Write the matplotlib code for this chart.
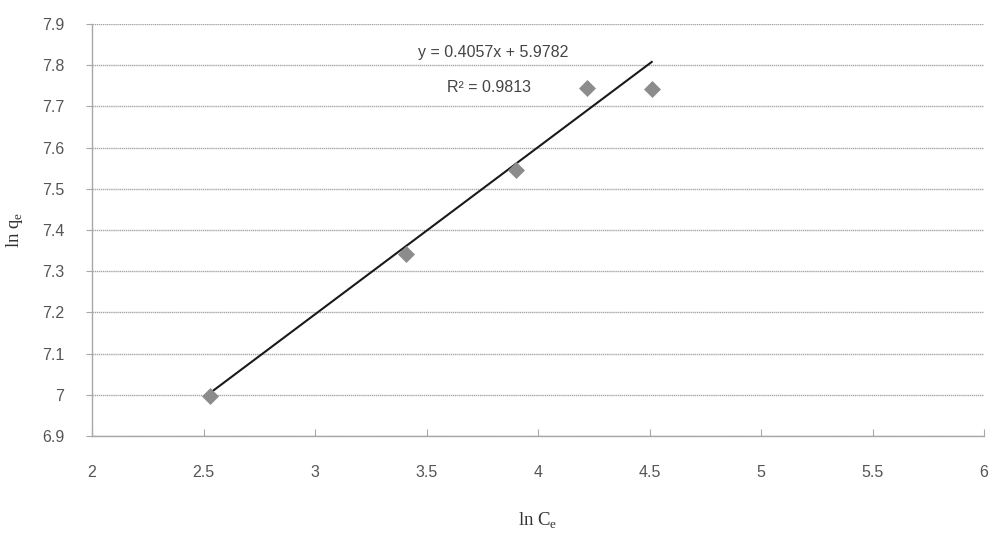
import matplotlib
matplotlib.use("Agg")
import matplotlib.pyplot as plt
import numpy as np

# data
ln_ce = [2.53, 3.41, 3.90, 4.22, 4.51]
ln_qe = [6.997, 7.341, 7.545, 7.745, 7.742]
slope = 0.4057
intercept = 5.9782
r2 = 0.9813

xticks = [2, 2.5, 3, 3.5, 4, 4.5, 5, 5.5, 6]
yticks = [6.9, 7, 7.1, 7.2, 7.3, 7.4, 7.5, 7.6, 7.7, 7.8, 7.9]

plt.rcParams['font.family'] = ['Liberation Sans', 'DejaVu Sans']

fig = plt.figure(figsize=(9.92, 5.33), dpi=100)
ax = fig.add_axes([92/992, (533-436)/533, (984-92)/992, (436-24)/533])

ax.set_xlim(2, 6)
ax.set_ylim(6.9, 7.9)
ax.set_xticks(xticks)
ax.set_xticklabels([f"{t:g}" for t in xticks])
ax.set_yticks(yticks)
ax.set_yticklabels([f"{t:g}" for t in yticks])

ax.grid(axis='y', color='#a8a8a8', linewidth=1.0, linestyle=(0, (1, 0.5)))
ax.set_axisbelow(True)
for s in ['top', 'right']:
    ax.spines[s].set_visible(False)
for s in ['left', 'bottom']:
    ax.spines[s].set_color('#a8a8a8')
    ax.spines[s].set_linewidth(1.0)

ax.tick_params(axis='x', colors='#a8a8a8', labelcolor='#555555', length=5,
               direction='in', pad=21, labelsize=11.5)
ax.tick_params(axis='y', colors='#a8a8a8', labelcolor='#555555', length=4,
               direction='out', pad=16, labelsize=11.5)

# trend line from the fitted equation
xf = np.array([min(ln_ce), max(ln_ce)])
ax.plot(xf, slope * xf + intercept, color='#1a1a1a', linewidth=1.5, zorder=3)
ax.scatter(ln_ce, ln_qe, marker='D', s=75, color='#8c8c8c', zorder=4,
           linewidths=0)

ax.text(3.8, 7.83, f"y = {slope}x + {intercept}", ha='center', va='center',
        fontsize=11.5, color='#444444')
ax.text(3.78, 7.745, f"R² = {r2}", ha='center', va='center',
        fontsize=11.5, color='#444444')

ax.set_ylabel('ln q$_\\mathregular{e}$', family='Liberation Serif', fontsize=13.5,
              color='#333333', labelpad=12)
ax.set_xlabel('ln C$_\\mathregular{e}$', family='Liberation Serif', fontsize=13.5,
              color='#333333', labelpad=22)

fig.savefig('out.png', dpi=100, facecolor='white')
